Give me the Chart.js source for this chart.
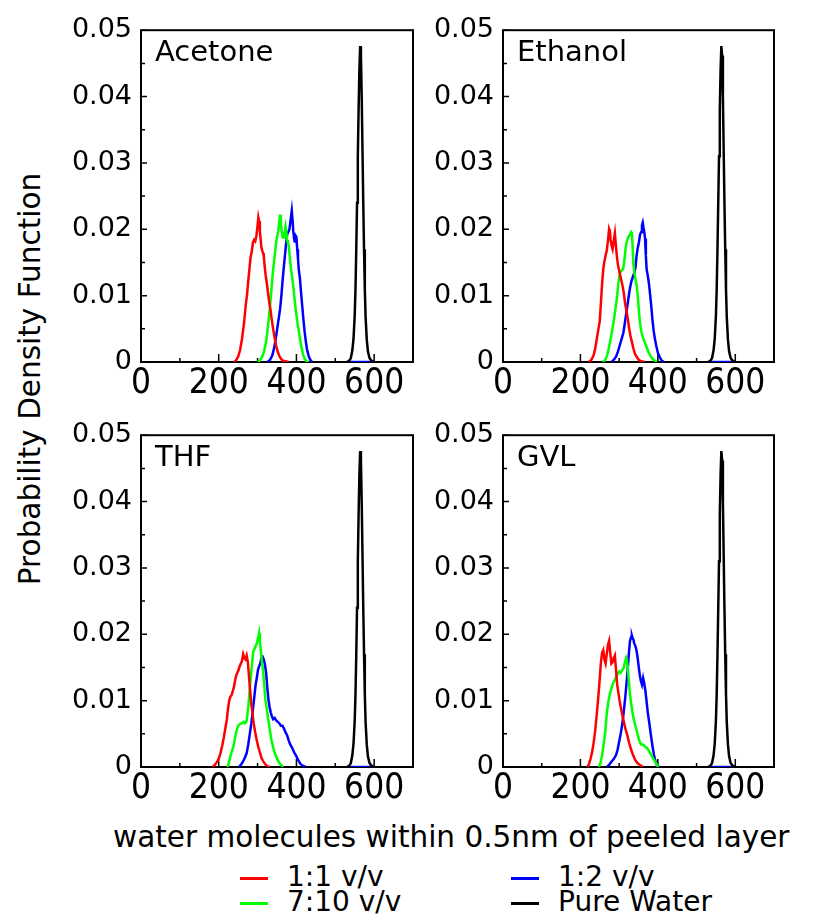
<!DOCTYPE html>
<html>
<head>
<meta charset="utf-8">
<script src="https://cdn.jsdelivr.net/npm/chart.js@4.4.0/dist/chart.umd.min.js"></script>
<style>
  body { margin: 0; background: #fff; width: 816px; height: 915px; position: relative; overflow: hidden; font-family: 'DejaVu Sans', sans-serif; }
  canvas { position: absolute; }
  .txt { position: absolute; white-space: nowrap; color: #000; line-height: 1; }
  .swatch { position: absolute; height: 3px; width: 28px; }
</style>
</head>
<body>
<div class="txt" id="ytitle" style="font-size:29.5px; left:31px; top:379px; transform: translate(-50%,-50%) rotate(-90deg);">Probability Density Function</div>
<div class="txt" style="font-size:29.5px; left:113px; top:823px;">water molecules within 0.5nm of peeled layer</div>
<div id="legend"></div>
<script>
// series names + colours (legend order)
const seriesLabels = ["1:1 v/v", "7:10 v/v", "1:2 v/v", "Pure Water"];
const seriesColors = ["#ff0000", "#00ff00", "#0000ff", "#000000"];

// x ticks: water molecules, y ticks: pdf
const xMin = 0, xMax = 700, xStep = 100;
const yMin = 0, yMax = 0.05, yStep = 0.005;

// pure water (same in every panel)
const pureWater = [[530,0],[536,0.0002],[540,0.0006],[544,0.0018],[547,0.0036],[550,0.0070],[552,0.0110],[554,0.0170],[556,0.0240],[558,0.0310],[560,0.0380],[562,0.0440],[564,0.0476],[566,0.0462],[568,0.0400],[570,0.0320],[572,0.0240],[574,0.0170],[576,0.0110],[578,0.0068],[581,0.0034],[584,0.0016],[588,0.0006],[593,0.0002],[600,0]];

// Acetone
const acetone11 = [[240,0],[245,0.0003],[250,0.0008],[255,0.0018],[260,0.0035],[265,0.0058],[270,0.0088],[273,0.0102],[276,0.0122],[279,0.0140],[282,0.0158],[285,0.0166],[288,0.0180],[291,0.0184],[294,0.0182],[297,0.0190],[300,0.0206],[302,0.0218],[304,0.0212],[306,0.0196],[308,0.0184],[310,0.0172],[312,0.0168],[314,0.0164],[316,0.0160],[318,0.0146],[321,0.0130],[324,0.0118],[327,0.0104],[330,0.0090],[333,0.0080],[336,0.0066],[340,0.0050],[344,0.0036],[348,0.0024],[352,0.0015],[356,0.0009],[360,0.0005],[365,0.0002],[372,0.0001],[380,0]];
const acetone710 = [[300,0],[306,0.0002],[312,0.0008],[316,0.0015],[320,0.0025],[323,0.0035],[326,0.0050],[329,0.0066],[332,0.0084],[335,0.0104],[338,0.0126],[341,0.0144],[344,0.0160],[347,0.0176],[350,0.0188],[353,0.0196],[356,0.0212],[358,0.0222],[360,0.0208],[362,0.0198],[364,0.0190],[366,0.0192],[368,0.0186],[370,0.0196],[372,0.0204],[374,0.0196],[376,0.0184],[378,0.0180],[380,0.0176],[383,0.0158],[386,0.0140],[389,0.0128],[392,0.0114],[395,0.0096],[398,0.0080],[401,0.0066],[404,0.0054],[407,0.0044],[410,0.0032],[413,0.0022],[417,0.0012],[421,0.0005],[426,0.0001],[432,0]];
const acetone12 = [[325,0],[332,0.0003],[338,0.0010],[343,0.0022],[347,0.0036],[351,0.0052],[355,0.0068],[358,0.0080],[361,0.0098],[364,0.0120],[367,0.0140],[370,0.0158],[373,0.0176],[376,0.0192],[379,0.0196],[382,0.0200],[385,0.0214],[388,0.0228],[390,0.0214],[392,0.0196],[394,0.0186],[396,0.0180],[398,0.0190],[400,0.0188],[402,0.0170],[404,0.0156],[406,0.0140],[409,0.0126],[412,0.0104],[415,0.0084],[418,0.0064],[421,0.0046],[424,0.0032],[427,0.0020],[431,0.0010],[435,0.0004],[440,0],[500,null],[538,0],[592,0]];

// Ethanol
const ethanol11 = [[222,0],[228,0.0003],[234,0.0010],[238,0.0020],[242,0.0034],[246,0.0048],[250,0.0062],[253,0.0090],[256,0.0118],[259,0.0140],[262,0.0152],[265,0.0160],[268,0.0168],[271,0.0182],[274,0.0200],[276,0.0196],[278,0.0184],[281,0.0174],[283,0.0170],[286,0.0182],[289,0.0194],[291,0.0180],[294,0.0160],[297,0.0146],[300,0.0138],[303,0.0130],[306,0.0122],[309,0.0114],[312,0.0104],[315,0.0090],[318,0.0080],[321,0.0070],[325,0.0054],[329,0.0040],[333,0.0030],[337,0.0020],[341,0.0012],[346,0.0007],[351,0.0003],[358,0.0001],[366,0]];
const ethanol710 = [[258,0],[264,0.0003],[269,0.0010],[273,0.0020],[277,0.0032],[281,0.0044],[285,0.0058],[289,0.0074],[292,0.0086],[295,0.0100],[298,0.0118],[301,0.0132],[304,0.0136],[307,0.0138],[310,0.0140],[313,0.0150],[316,0.0168],[319,0.0180],[322,0.0186],[325,0.0190],[328,0.0192],[331,0.0196],[333,0.0194],[335,0.0172],[337,0.0146],[340,0.0132],[343,0.0122],[346,0.0112],[349,0.0092],[352,0.0070],[355,0.0054],[358,0.0044],[362,0.0036],[366,0.0030],[370,0.0024],[375,0.0016],[380,0.0010],[386,0.0005],[392,0.0002],[398,0]];
const ethanol12 = [[280,0],[286,0.0003],[292,0.0008],[297,0.0016],[302,0.0026],[307,0.0036],[311,0.0044],[315,0.0060],[319,0.0076],[323,0.0092],[327,0.0108],[331,0.0120],[335,0.0128],[339,0.0134],[342,0.0142],[345,0.0160],[348,0.0172],[351,0.0180],[354,0.0192],[357,0.0196],[359,0.0206],[361,0.0210],[363,0.0202],[365,0.0196],[367,0.0186],[369,0.0160],[371,0.0140],[374,0.0130],[377,0.0118],[380,0.0102],[383,0.0084],[386,0.0064],[389,0.0048],[392,0.0036],[396,0.0024],[400,0.0014],[405,0.0007],[410,0.0002],[416,0],[500,null],[538,0],[592,0]];

// THF
const thf11 = [[184,0],[190,0.0003],[196,0.0008],[201,0.0014],[205,0.0022],[209,0.0032],[213,0.0044],[217,0.0058],[221,0.0072],[224,0.0088],[227,0.0100],[230,0.0106],[233,0.0108],[236,0.0114],[239,0.0120],[242,0.0130],[245,0.0138],[248,0.0142],[251,0.0146],[254,0.0152],[257,0.0156],[260,0.0160],[263,0.0170],[266,0.0164],[269,0.0162],[272,0.0168],[275,0.0158],[278,0.0136],[281,0.0114],[284,0.0094],[287,0.0080],[290,0.0066],[294,0.0052],[298,0.0040],[302,0.0030],[306,0.0022],[310,0.0014],[315,0.0008],[320,0.0004],[326,0.0001],[332,0]];
const thf710 = [[222,0],[225,0.0004],[230,0.0016],[235,0.0026],[238,0.0031],[242,0.0044],[246,0.0055],[250,0.0062],[255,0.0065],[260,0.0066],[264,0.0068],[268,0.0066],[272,0.0070],[276,0.0090],[280,0.0118],[283,0.0138],[286,0.0158],[289,0.0174],[292,0.0178],[295,0.0182],[298,0.0186],[300,0.0192],[302,0.0196],[304,0.0202],[306,0.0188],[308,0.0178],[311,0.0160],[314,0.0146],[317,0.0126],[320,0.0102],[324,0.0086],[328,0.0070],[332,0.0054],[336,0.0040],[340,0.0030],[345,0.0020],[350,0.0013],[355,0.0007],[360,0.0003],[366,0]];
const thf12 = [[252,0],[258,0.0004],[264,0.0010],[268,0.0015],[272,0.0021],[276,0.0034],[280,0.0050],[284,0.0066],[288,0.0086],[292,0.0108],[295,0.0124],[298,0.0134],[301,0.0146],[304,0.0152],[307,0.0156],[310,0.0164],[313,0.0166],[316,0.0162],[319,0.0154],[322,0.0142],[325,0.0120],[328,0.0102],[331,0.0090],[334,0.0082],[337,0.0076],[340,0.0072],[344,0.0074],[348,0.0070],[352,0.0068],[356,0.0066],[360,0.0062],[364,0.0062],[368,0.0058],[372,0.0052],[376,0.0048],[380,0.0040],[384,0.0034],[388,0.0030],[392,0.0025],[396,0.0020],[400,0.0016],[405,0.0010],[410,0.0005],[416,0.0002],[424,0],[500,null],[538,0],[592,0]];

// GVL
const gvl11 = [[218,0],[222,0.0004],[226,0.0012],[230,0.0022],[234,0.0036],[238,0.0054],[242,0.0078],[246,0.0104],[250,0.0134],[253,0.0158],[256,0.0172],[259,0.0176],[262,0.0162],[265,0.0156],[268,0.0170],[271,0.0184],[274,0.0190],[277,0.0172],[280,0.0156],[283,0.0158],[286,0.0164],[289,0.0168],[292,0.0146],[295,0.0124],[298,0.0112],[301,0.0100],[305,0.0088],[309,0.0076],[313,0.0066],[317,0.0056],[321,0.0048],[326,0.0036],[331,0.0026],[336,0.0018],[341,0.0011],[347,0.0006],[354,0.0003],[362,0]];
const gvl710 = [[248,0],[252,0.0006],[256,0.0018],[260,0.0034],[264,0.0052],[268,0.0080],[272,0.0098],[276,0.0110],[280,0.0118],[284,0.0126],[288,0.0130],[292,0.0136],[296,0.0140],[300,0.0144],[304,0.0142],[308,0.0146],[312,0.0150],[315,0.0158],[318,0.0164],[320,0.0160],[322,0.0152],[325,0.0130],[328,0.0110],[331,0.0096],[334,0.0084],[337,0.0074],[341,0.0064],[345,0.0056],[349,0.0046],[353,0.0038],[357,0.0034],[361,0.0034],[365,0.0032],[369,0.0030],[373,0.0028],[377,0.0024],[381,0.0020],[385,0.0016],[389,0.0012],[393,0.0008],[397,0.0004],[401,0]];
const gvl12 = [[268,0],[274,0.0003],[280,0.0008],[286,0.0012],[292,0.0018],[296,0.0026],[300,0.0038],[304,0.0050],[308,0.0064],[312,0.0084],[316,0.0106],[319,0.0126],[322,0.0146],[325,0.0170],[328,0.0190],[331,0.0196],[333,0.0198],[335,0.0194],[337,0.0192],[339,0.0186],[341,0.0184],[344,0.0178],[347,0.0168],[350,0.0154],[353,0.0140],[356,0.0130],[359,0.0124],[362,0.0134],[365,0.0126],[368,0.0114],[371,0.0098],[374,0.0082],[378,0.0066],[382,0.0048],[386,0.0032],[390,0.0018],[394,0.0008],[398,0.0002],[404,0],[500,null],[538,0],[592,0]];

const panelNames = ["Acetone", "Ethanol", "THF", "GVL"];
const panelSeries = [
  [acetone11, acetone710, acetone12, pureWater],
  [ethanol11, ethanol710, ethanol12, pureWater],
  [thf11, thf710, thf12, pureWater],
  [gvl11, gvl710, gvl12, pureWater],
];

// plot-area boxes on the page (left, top, right, bottom)
const panelBoxes = [
  [141, 25, 413, 362],
  [503, 25, 774, 362],
  [141, 430, 413, 767],
  [503, 430, 774, 767],
];
const PAD_TOP = 20, PAD_RIGHT = 10, Y_W = 100, X_H = 45;

// frame, inward ticks and panel name
const framePlugin = {
  id: "frame",
  beforeDatasetsDraw(chart) {
    const { ctx, chartArea: a, scales } = chart;
    ctx.save();
    ctx.strokeStyle = "#000";
    ctx.lineWidth = 2;
    ctx.strokeRect(a.left, a.top, a.right - a.left, a.bottom - a.top);
    ctx.lineWidth = 1.5;
    ctx.beginPath();
    scales.x.ticks.forEach((t) => {
      const px = scales.x.getPixelForValue(t.value);
      const len = t.value % 200 === 0 ? 8 : 4;
      ctx.moveTo(px, a.bottom);
      ctx.lineTo(px, a.bottom - len);
    });
    scales.y.ticks.forEach((t) => {
      const py = scales.y.getPixelForValue(t.value);
      const len = Math.round(t.value * 1000) % 10 === 0 ? 6 : 4;
      ctx.moveTo(a.left, py);
      ctx.lineTo(a.left + len, py);
    });
    ctx.stroke();
    ctx.fillStyle = "#000";
    ctx.font = "29px 'DejaVu Sans'";
    ctx.textBaseline = "alphabetic";
    ctx.fillText(chart.options.plugins.frame.name, a.left + 14, a.top + 31);
    ctx.restore();
  },
};

panelBoxes.forEach((box, i) => {
  const [l, t, r, b] = box;
  const cv = document.createElement("canvas");
  cv.width = r - l + Y_W + PAD_RIGHT;
  cv.height = b - t + PAD_TOP + X_H;
  cv.style.left = l - Y_W + "px";
  cv.style.top = t - PAD_TOP + "px";
  document.body.appendChild(cv);

  new Chart(cv.getContext("2d"), {
    type: "line",
    data: {
      datasets: panelSeries[i].map((d, k) => ({
        label: seriesLabels[k],
        data: d,
        borderColor: seriesColors[k],
        borderWidth: 2.5,
        pointRadius: 0,
        tension: 0,
        spanGaps: false,
        order: k === 3 ? 0 : 1,
      })),
    },
    options: {
      responsive: false,
      animation: false,
      devicePixelRatio: 1,
      layout: { padding: { top: PAD_TOP, right: PAD_RIGHT, left: 0, bottom: 0 } },
      plugins: { legend: { display: false }, tooltip: { enabled: false }, frame: { name: panelNames[i] } },
      scales: {
        x: {
          type: "linear",
          min: xMin,
          max: xMax,
          grid: { display: false, drawTicks: false },
          border: { display: false },
          afterFit: (s) => { s.height = X_H; },
          ticks: {
            stepSize: xStep,
            autoSkip: false,
            maxRotation: 0,
            padding: 1,
            color: "#000",
            font: { family: "'DejaVu Sans Condensed', 'DejaVu Sans'", size: 35 },
            callback: (v) => (v % 200 === 0 && v < 700 ? String(v) : ""),
          },
        },
        y: {
          min: yMin,
          max: yMax,
          grid: { display: false, drawTicks: false },
          border: { display: false },
          afterFit: (s) => { s.width = Y_W; },
          ticks: {
            stepSize: yStep,
            autoSkip: false,
            padding: 9,
            color: "#000",
            font: { family: "'DejaVu Sans'", size: 27 },
            callback: (v) => {
              const k = Math.round(v * 1000);
              if (k % 10 !== 0) return "";
              return k === 0 ? "0" : (k / 1000).toFixed(2);
            },
          },
        },
      },
    },
    plugins: [framePlugin],
  });
});

// legend: two columns, two rows
const legendPos = [[240, 863], [240, 888], [511, 863], [511, 888]];
const legend = document.getElementById("legend");
seriesLabels.forEach((lab, k) => {
  const [x, y] = legendPos[k];
  const sw = document.createElement("div");
  sw.className = "swatch";
  sw.style.left = x + "px";
  sw.style.top = y + 14 + "px";
  sw.style.background = seriesColors[k];
  legend.appendChild(sw);
  const tx = document.createElement("div");
  tx.className = "txt";
  tx.style.fontSize = "28px";
  tx.style.left = x + 47 + "px";
  tx.style.top = y + "px";
  tx.textContent = lab;
  legend.appendChild(tx);
});
</script>
</body>
</html>
